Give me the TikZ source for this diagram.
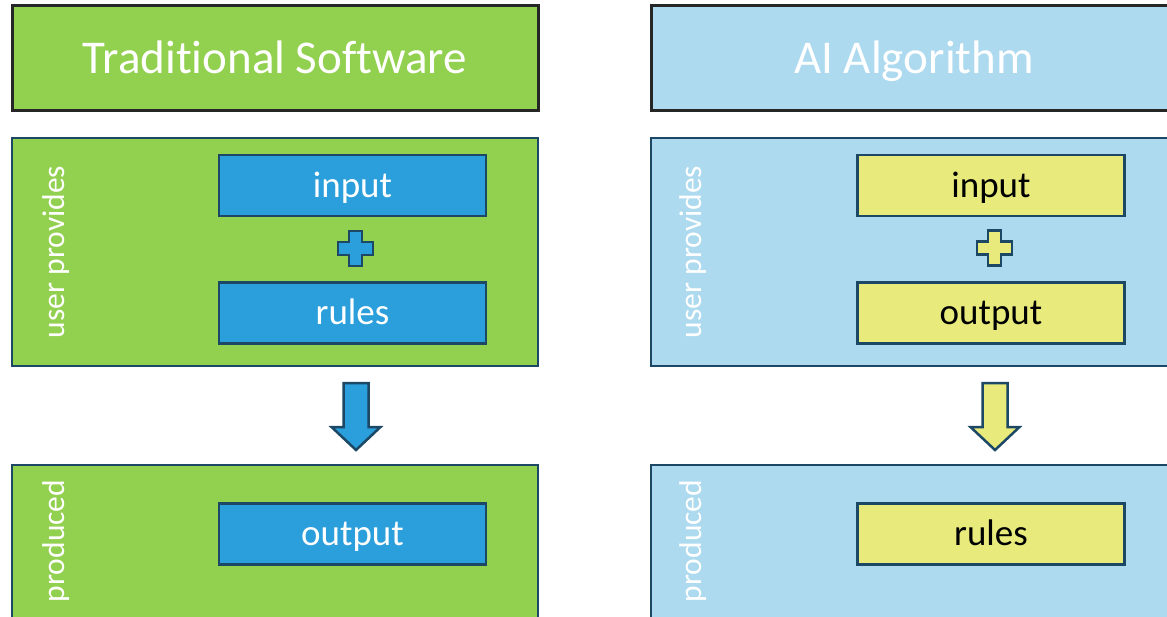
\documentclass[tikz,border=0pt]{standalone}
\usepackage{fontspec}
\setmainfont{Carlito}[Ligatures=NoCommon]
\definecolor{swgreen}{HTML}{92D050}
\definecolor{ailight}{HTML}{ADDAEF}
\definecolor{chipblue}{HTML}{2B9FDB}
\definecolor{chipyellow}{HTML}{E8EB7B}
\definecolor{edgeblue}{HTML}{1C4866}
\definecolor{edgegray}{HTML}{262626}
\begin{document}
\begin{tikzpicture}[x=1pt,y=-1pt,
  titlebox/.style={draw=edgegray, line width=3pt, minimum width=526pt, minimum height=105pt,
    inner sep=0pt, text=white, text height=38pt, text depth=6.4pt,
    font=\fontsize{47}{50}\selectfont},
  panel/.style={draw=edgeblue, line width=2.5pt, minimum width=526pt, inner sep=0pt},
  chip/.style={draw=edgeblue, line width=2.5pt, minimum width=267pt, minimum height=61pt,
    inner sep=0pt, text height=30pt, text depth=7pt, font=\fontsize{37}{40}\selectfont},
  sidelabel/.style={rotate=90, text=white, inner sep=0pt, font=\fontsize{31.5}{34}\selectfont},
  glyph/.style={draw=edgeblue, line width=2.5pt, line join=miter}
]
\useasboundingbox (0,0) rectangle (1167,616);
\clip (0,0) rectangle (1167,616);

% ---------- traditional software ----------
\node[titlebox, fill=swgreen] (ltitle) at (275,57.5) {Traditional Software};
\node[panel, fill=swgreen, minimum height=228pt] (lup) at (275,252) {};
\node[panel, fill=swgreen, minimum height=195pt] (ldown) at (275,562.5) {};
\node[sidelabel] (lupl) at (56,252) {user provides};
\node[sidelabel] (ldownl) at (56,541) {produced};
\node[chip, fill=chipblue, text=white] (lin) at (352.5,185.5) {input};
\node[chip, fill=chipblue, text=white] (lrules) at (352.5,313) {rules};
\node[chip, fill=chipblue, text=white] (lout) at (352.5,534) {output};

\coordinate (lplus) at (355.5,248.5);
\draw[glyph, fill=chipblue] (lplus) ++(-6.5,-17.5) -- ++(13,0) -- ++(0,11) -- ++(11,0)
  -- ++(0,13) -- ++(-11,0) -- ++(0,11) -- ++(-13,0) -- ++(0,-11) -- ++(-11,0)
  -- ++(0,-13) -- ++(11,0) -- cycle;

\coordinate (larrow) at (356,383);
\draw[glyph, fill=chipblue] (larrow) ++(-12.5,0) -- ++(25,0) -- ++(0,44) -- ++(12,0)
  -- ++(-24.5,23) -- ++(-24.5,-23) -- ++(12,0) -- cycle;

% ---------- AI algorithm ----------
\node[titlebox, fill=ailight] (rtitle) at (914,57.5) {AI Algorithm};
\node[panel, fill=ailight, minimum height=228pt] (rup) at (914,252) {};
\node[panel, fill=ailight, minimum height=195pt] (rdown) at (914,562.5) {};
\node[sidelabel] (rupl) at (693,252) {user provides};
\node[sidelabel] (rdownl) at (693,541) {produced};
\node[chip, fill=chipyellow] (rin) at (991,185.5) {input};
\node[chip, fill=chipyellow] (rout) at (991,313) {output};
\node[chip, fill=chipyellow] (rrules) at (991,534) {rules};

\coordinate (rplus) at (994.5,248);
\draw[glyph, fill=chipyellow] (rplus) ++(-6.5,-17.5) -- ++(13,0) -- ++(0,11) -- ++(11,0)
  -- ++(0,13) -- ++(-11,0) -- ++(0,11) -- ++(-13,0) -- ++(0,-11) -- ++(-11,0)
  -- ++(0,-13) -- ++(11,0) -- cycle;

\coordinate (rarrow) at (995,383);
\draw[glyph, fill=chipyellow] (rarrow) ++(-12.5,0) -- ++(25,0) -- ++(0,44) -- ++(12,0)
  -- ++(-24.5,23) -- ++(-24.5,-23) -- ++(12,0) -- cycle;
\end{tikzpicture}
\end{document}
